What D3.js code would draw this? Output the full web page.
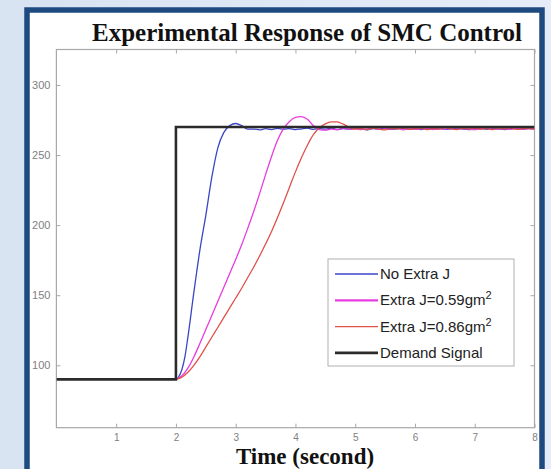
<!DOCTYPE html>
<html><head><meta charset="utf-8">
<script src="https://cdn.jsdelivr.net/npm/d3@7"></script>
<style>
html,body{margin:0;padding:0;}
body{width:551px;height:469px;overflow:hidden;background:linear-gradient(90deg,#d8e3f2 0%,#e6edf8 100%);}
</style></head>
<body><svg id="c" width="551" height="469"></svg>
<script>
// ---- data ----
const title = "Experimental Response of SMC Control";
const xLabel = "Time (second)";
const xTicks = [1,2,3,4,5,6,7,8];
const yTicks = [100,150,200,250,300];
const xLimits = [0, 8];
const yLimits = [55.5, 325.3];
const legendLabels = ["No Extra J", "Extra J=0.59gm", "Extra J=0.86gm", "Demand Signal"];
const legendSup = ["", "2", "2", ""];

const demandT = [0, 2, 2, 8];
const demandV = [90, 90, 270, 270];

// rise portions [t, value]
const blueRiseT = [2.0, 2.05, 2.1, 2.15, 2.2, 2.3, 2.4, 2.5, 2.6, 2.7, 2.8, 2.9, 3.0, 3.1, 3.2];
const blueRiseV = [90, 92, 97, 106, 120, 152, 182, 207, 234, 255, 266, 271, 272.5, 271, 268.5];
const magRiseT = [2.0,2.1,2.2,2.3,2.4,2.5,2.6,2.7,2.8,2.9,3.0,3.1,3.2,3.3,3.4,3.5,3.6,3.7,3.8,3.9,4.0,4.1,4.2,4.3,4.4];
const magRiseV = [90,92.5,98,106,115.5,125.5,135.5,145.5,155.5,165.5,175.5,186,197.5,209.5,222.5,236,249,260.5,268.8,274,276.8,277.4,275.5,271,268.2];
const redRiseT = [2.0,2.1,2.2,2.3,2.4,2.5,2.6,2.7,2.8,2.9,3.0,3.1,3.2,3.3,3.4,3.5,3.6,3.7,3.8,3.9,4.0,4.1,4.2,4.3,4.4,4.5,4.6,4.7,4.8,4.9,5.0];
const redRiseV = [90,91.5,95,100,106,113,120,127,134,141,148,155,162.5,170,178,186.5,195.5,205.5,216,227,238,248,257,264.5,269.5,272.3,273.7,273.6,272,269.8,268.6];

// settled (noisy) portions, sampled every 0.1 s
const blueTailStart = 3.3;
const blueTailV = [268.5,268.0,268.8,268.2,269.0,268.4,268.9,268.1,268.7,269.2,268.3,268.9,268.5,269.3,268.2,268.8,268.4,269.1,268.6,268.0,268.9,268.5,269.2,268.3,268.7,269.0,268.4,268.8,268.2,269.1,268.6,268.9,268.3,268.7,269.2,268.5,268.1,268.8,269.0,268.4,268.9,268.6,268.2,268.8,269.1,268.5,268.9,268.6];
const magTailStart = 4.5;
const magTailV = [267.8,268.6,268.1,269.0,268.4,268.9,268.2,268.7,269.1,268.3,268.8,268.5,269.2,268.0,268.9,268.4,268.7,269.0,268.2,268.8,268.5,269.1,268.3,268.9,268.6,268.1,268.8,269.2,268.4,268.7,268.9,268.3,269.0,268.5,268.8,268.6];
const redTailStart = 5.1;
const redTailV = [268.9,268.2,269.3,268.5,268.0,269.1,268.6,269.4,268.3,268.8,269.2,268.1,268.9,268.4,269.5,268.6,268.2,269.0,268.7,269.3,268.4,268.9,268.1,269.2,268.6,269.4,268.3,268.8,269.1,268.5];

const colors = ["#3a46c8", "#e83ce0", "#e0514a", "#2b2b2b"];

// ---- build ----
function series(rt, rv, start, tail){
  const pts = rt.map((t,i)=>[t, rv[i]]);
  tail.forEach((v,i)=>pts.push([start + i*0.1, v]));
  return pts;
}
const blue = series(blueRiseT, blueRiseV, blueTailStart, blueTailV);
const mag = series(magRiseT, magRiseV, magTailStart, magTailV);
const red = series(redRiseT, redRiseV, redTailStart, redTailV);
const demand = demandT.map((t,i)=>[t, demandV[i]]);

const svg = d3.select("#c");
svg.append("rect").attr("x",27).attr("y",10).attr("width",515).attr("height",480).attr("fill","#fff");

const x = d3.scaleLinear().domain(xLimits).range([56.4, 534.5]);
const y = d3.scaleLinear().domain(yLimits).range([427.7, 49.5]);

const axisCol = "#a8a8a8";
const g = svg.append("g");
g.append("rect").attr("x",x(xLimits[0])).attr("y",y(yLimits[1]))
  .attr("width",x(xLimits[1])-x(xLimits[0])).attr("height",y(yLimits[0])-y(yLimits[1]))
  .attr("fill","none").attr("stroke",axisCol).attr("stroke-width",1.2);

function styleAxis(sel, fs){
  sel.select(".domain").remove();
  sel.selectAll(".tick line").attr("stroke",axisCol);
  sel.selectAll(".tick text").attr("fill","#808080").style("font-family","Liberation Sans, Arial, sans-serif").style("font-size",fs);
}
g.append("g").attr("transform",`translate(0,${y(yLimits[0])})`)
  .call(d3.axisBottom(x).tickValues(xTicks).tickSize(-4).tickPadding(6).tickFormat(d3.format("d")))
  .call(styleAxis, "10px");
g.append("g").attr("transform",`translate(0,${y(yLimits[1])})`)
  .call(d3.axisTop(x).tickValues(xTicks).tickSize(-4).tickFormat(""))
  .call(styleAxis, "10px");
g.append("g").attr("transform",`translate(${x(xLimits[0])},0)`)
  .call(d3.axisLeft(y).tickValues(yTicks).tickSize(-4).tickPadding(6).tickFormat(d3.format("d")))
  .call(styleAxis, "11px");
g.append("g").attr("transform",`translate(${x(xLimits[1])},0)`)
  .call(d3.axisRight(y).tickValues(yTicks).tickSize(-4).tickFormat(""))
  .call(styleAxis, "11px");

const line = d3.line().x(d=>x(d[0])).y(d=>y(d[1])).curve(d3.curveMonotoneX);
const lineLin = d3.line().x(d=>x(d[0])).y(d=>y(d[1]));
svg.append("clipPath").attr("id","pc").append("rect")
  .attr("x",x(xLimits[0])).attr("y",y(yLimits[1]))
  .attr("width",x(xLimits[1])-x(xLimits[0])).attr("height",y(yLimits[0])-y(yLimits[1]));
const pg = svg.append("g").attr("clip-path","url(#pc)");
[[blue,0],[mag,1],[red,2]].forEach(([d,i])=>{
  pg.append("path").datum(d).attr("d",line).attr("fill","none")
    .attr("stroke",colors[i]).attr("stroke-width",1.3).attr("stroke-linejoin","round");
});
pg.append("path").datum(demand).attr("d",lineLin).attr("fill","none")
  .attr("stroke",colors[3]).attr("stroke-width",2.6);

// legend
const lg = svg.append("g");
lg.append("rect").attr("x",328).attr("y",259).attr("width",186).attr("height",107)
  .attr("fill","#fff").attr("stroke","#b0b0b0").attr("stroke-width",1);
const lw = [1.3, 2.2, 1.3, 2.6];
legendLabels.forEach((lab,i)=>{
  const cy = 274 + i*26.3;
  lg.append("line").attr("x1",335).attr("x2",378).attr("y1",cy).attr("y2",cy)
    .attr("stroke",colors[i]).attr("stroke-width",lw[i]);
  const t = lg.append("text").attr("x",380).attr("y",cy+5)
    .style("font-family","Liberation Sans, Arial, sans-serif").style("font-size","15px").attr("fill","#222")
    .text(lab);
  if(legendSup[i]) t.append("tspan").attr("dy",-6).style("font-size","11px").text(legendSup[i]);
});

// titles
svg.append("text").attr("x",307).attr("y",41).attr("text-anchor","middle")
  .style("font-family","Liberation Serif, 'Times New Roman', serif").style("font-weight","bold").style("font-size","25px")
  .attr("fill","#111").text(title);
svg.append("text").attr("x",305).attr("y",464).attr("text-anchor","middle")
  .style("font-family","Liberation Serif, 'Times New Roman', serif").style("font-weight","bold").style("font-size","23px")
  .attr("fill","#111").text(xLabel);

// frame border
svg.append("rect").attr("x",27).attr("y",10).attr("width",515).attr("height",480)
  .attr("fill","none").attr("stroke","#1f4a80").attr("stroke-width",5.5);
</script></body></html>
